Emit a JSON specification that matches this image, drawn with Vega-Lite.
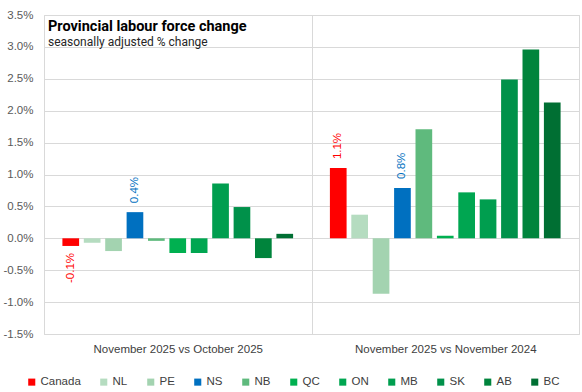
{
  "$schema": "https://vega.github.io/schema/vega-lite/v6.json",
  "autosize": {"type": "none"},
  "padding": {"left": 44, "top": 15, "right": 3, "bottom": 58},
  "width": 535,
  "height": 319,
  "background": "white",
  "title": {
    "text": "Provincial labour force change",
    "subtitle": "seasonally adjusted % change",
    "anchor": "start",
    "frame": "group",
    "font": "Roboto",
    "fontSize": 14.5,
    "fontWeight": "bold",
    "color": "#000000",
    "subtitleFont": "Roboto",
    "subtitleFontSize": 12,
    "subtitleColor": "#262626",
    "subtitlePadding": 3,
    "offset": 0,
    "dx": 4,
    "dy": 40
  },
  "config": {
    "view": {"stroke": "#d9d9d9"},
    "font": "Liberation Sans"
  },
  "data": {
    "values": [
      {"period": "November 2025 vs October 2025", "region": "Canada", "value": -0.0012},
      {"period": "November 2025 vs October 2025", "region": "NL", "value": -0.0007},
      {"period": "November 2025 vs October 2025", "region": "PE", "value": -0.0020},
      {"period": "November 2025 vs October 2025", "region": "NS", "value": 0.0041},
      {"period": "November 2025 vs October 2025", "region": "NB", "value": -0.0004},
      {"period": "November 2025 vs October 2025", "region": "QC", "value": -0.0023},
      {"period": "November 2025 vs October 2025", "region": "ON", "value": -0.0023},
      {"period": "November 2025 vs October 2025", "region": "MB", "value": 0.0086},
      {"period": "November 2025 vs October 2025", "region": "SK", "value": 0.0049},
      {"period": "November 2025 vs October 2025", "region": "AB", "value": -0.0031},
      {"period": "November 2025 vs October 2025", "region": "BC", "value": 0.0007},
      {"period": "November 2025 vs November 2024", "region": "Canada", "value": 0.0110},
      {"period": "November 2025 vs November 2024", "region": "NL", "value": 0.0037},
      {"period": "November 2025 vs November 2024", "region": "PE", "value": -0.0087},
      {"period": "November 2025 vs November 2024", "region": "NS", "value": 0.0079},
      {"period": "November 2025 vs November 2024", "region": "NB", "value": 0.0171},
      {"period": "November 2025 vs November 2024", "region": "QC", "value": 0.0004},
      {"period": "November 2025 vs November 2024", "region": "ON", "value": 0.0072},
      {"period": "November 2025 vs November 2024", "region": "MB", "value": 0.0061},
      {"period": "November 2025 vs November 2024", "region": "SK", "value": 0.0249},
      {"period": "November 2025 vs November 2024", "region": "AB", "value": 0.0296},
      {"period": "November 2025 vs November 2024", "region": "BC", "value": 0.0213}
    ]
  },
  "encoding": {
    "x": {
      "field": "period",
      "type": "nominal",
      "sort": null,
      "scale": {"paddingInner": 0, "paddingOuter": 0},
      "axis": {
        "title": null,
        "labelAngle": 0,
        "labelLimit": 0,
        "tickBand": "extent",
        "grid": true,
        "gridColor": "#d9d9d9",
        "ticks": false,
        "domain": false,
        "labelFontSize": 11.5,
        "labelColor": "#404040",
        "labelPadding": 9
      }
    },
    "xOffset": {
      "field": "region",
      "type": "nominal",
      "sort": ["Canada", "NL", "PE", "NS", "NB", "QC", "ON", "MB", "SK", "AB", "BC"],
      "scale": {"paddingInner": 0.22, "paddingOuter": 0.86}
    },
    "y": {
      "field": "value",
      "type": "quantitative",
      "scale": {"domain": [-0.015, 0.035], "nice": false},
      "axis": {
        "title": null,
        "values": [-0.015, -0.01, -0.005, 0, 0.005, 0.01, 0.015, 0.02, 0.025, 0.03, 0.035],
        "labelExpr": "replace(format(datum.value, '.1%'), '\u2212', '-')",
        "grid": true,
        "gridColor": "#d9d9d9",
        "domain": false,
        "ticks": false,
        "labelFontSize": 11.5,
        "labelColor": "#595959",
        "labelPadding": 11
      }
    }
  },
  "layer": [
    {
      "mark": {"type": "bar"},
      "encoding": {
        "color": {
          "field": "region",
          "type": "nominal",
          "scale": {
            "domain": ["Canada", "NL", "PE", "NS", "NB", "QC", "ON", "MB", "SK", "AB", "BC"],
            "range": ["#ff0000", "#b5dcc0", "#a3d3b0", "#0070c0", "#5fba7d", "#00b050", "#00a651", "#009e4f", "#00914a", "#00843c", "#006f33"]
          },
          "legend": {
            "title": null,
            "orient": "none",
            "direction": "horizontal",
            "columns": 11,
            "legendX": -18,
            "legendY": 361,
            "symbolType": "square",
            "symbolSize": 50,
            "symbolStrokeWidth": 0,
            "labelFontSize": 11.5,
            "labelColor": "#404040",
            "labelOffset": 3,
            "columnPadding": 17
          }
        }
      }
    },
    {
      "transform": [
        {"filter": "(datum.region == 'Canada' || datum.region == 'NS') && datum.value >= 0"},
        {"calculate": "replace(format(datum.value, '.1%'), '\u2212', '-')", "as": "label"}
      ],
      "mark": {"type": "text", "angle": 270, "align": "left", "baseline": "middle", "dx": 9, "fontSize": 11.5},
      "encoding": {
        "text": {"field": "label", "type": "nominal"},
        "color": {"condition": {"test": "datum.region == 'Canada'", "value": "#ff0000"}, "value": "#0070c0"}
      }
    },
    {
      "transform": [
        {"filter": "(datum.region == 'Canada' || datum.region == 'NS') && datum.value < 0"},
        {"calculate": "replace(format(datum.value, '.1%'), '\u2212', '-')", "as": "label"}
      ],
      "mark": {"type": "text", "angle": 270, "align": "right", "baseline": "middle", "dx": -7, "fontSize": 11.5},
      "encoding": {
        "text": {"field": "label", "type": "nominal"},
        "color": {"condition": {"test": "datum.region == 'Canada'", "value": "#ff0000"}, "value": "#0070c0"}
      }
    }
  ]
}
